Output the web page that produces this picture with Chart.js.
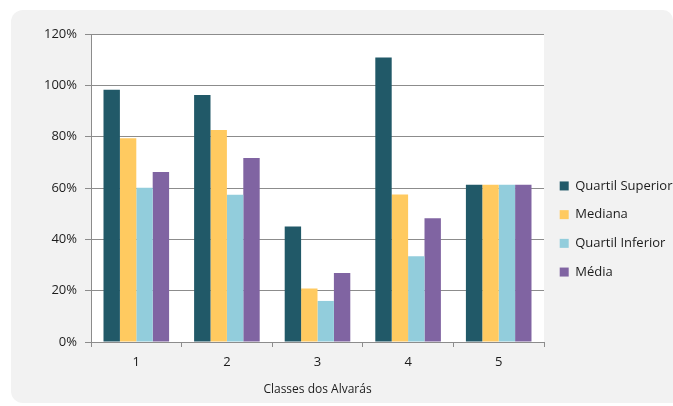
<!DOCTYPE html>
<html>
<head>
<meta charset="utf-8">
<script src="https://cdn.jsdelivr.net/npm/chart.js@4.4.0/dist/chart.umd.min.js"></script>
<style>
  html, body { margin: 0; padding: 0; background: #fff; width: 673px; height: 406px; overflow: hidden; }
  #panel {
    position: absolute; left: 11px; top: 10px; width: 662px; height: 393px;
    background: #f2f2f2; border-radius: 12px 10px 0 12px;
  }
  #wrap { position: absolute; left: 0; top: 0; width: 673px; height: 424px; }
</style>
</head>
<body>
<div id="panel"></div>
<div id="wrap"><canvas id="chart" width="673" height="424"></canvas></div>
<script>
const classes = ["1", "2", "3", "4", "5"];
const quartilSuperior = [98.3, 96.2, 45.0, 110.8, 61.3];
const mediana = [79.4, 82.6, 20.8, 57.5, 61.3];
const quartilInferior = [60.1, 57.4, 16.0, 33.4, 61.3];
const media = [66.2, 71.7, 26.9, 48.2, 61.3];

const FONT = "'Open Sans', 'DejaVu Sans', sans-serif";
const gridGray = "#8c8c8c";
const textColor = "#1c1c1c";

// white plot area on the grey panel
const plotBackground = {
  id: "plotBackground",
  beforeDraw(chart) {
    const { ctx, chartArea } = chart;
    ctx.save();
    ctx.fillStyle = "#ffffff";
    ctx.fillRect(chartArea.left, chartArea.top, chartArea.width, chartArea.height);
    ctx.restore();
  }
};

function series(label, values, color) {
  return {
    label,
    data: values,
    backgroundColor: color,
    borderWidth: 0,
    categoryPercentage: 0.724,
    barPercentage: 1.0
  };
}

new Chart(document.getElementById("chart"), {
  type: "bar",
  data: {
    labels: classes,
    datasets: [
      series("Quartil Superior", quartilSuperior, "#215968"),
      series("Mediana", mediana, "#ffca60"),
      series("Quartil Inferior", quartilInferior, "#92cddc"),
      series("Média", media, "#8064a2")
    ]
  },
  options: {
    responsive: false,
    animation: false,
    layout: { padding: { top: 34, left: 0, right: 0, bottom: 0 } },
    plugins: {
      tooltip: { enabled: false },
      legend: {
        position: "right",
        align: "center",
        maxWidth: 129,
        labels: {
          boxWidth: 9,
          boxHeight: 9,
          padding: 15.7,
          color: textColor,
          font: { family: FONT, size: 13 }
        }
      }
    },
    scales: {
      x: {
        afterFit(scale) { scale.height = 82; },
        grid: { drawOnChartArea: false, drawTicks: true, tickLength: 5, color: gridGray },
        border: { color: gridGray },
        ticks: { color: textColor, padding: 7, font: { family: FONT, size: 13 } },
        title: {
          display: true,
          text: "Classes dos Alvarás",
          color: textColor,
          font: { family: FONT, size: 12 },
          padding: { top: 0, bottom: 27 }
        }
      },
      y: {
        min: 0,
        max: 120,
        afterFit(scale) { scale.width = 91; },
        grid: { color: gridGray, tickLength: 6 },
        border: { color: gridGray },
        ticks: {
          stepSize: 20,
          padding: 8,
          color: textColor,
          font: { family: FONT, size: 13 },
          callback: v => v + "%"
        }
      }
    }
  },
  plugins: [plotBackground]
});
</script>
</body>
</html>
